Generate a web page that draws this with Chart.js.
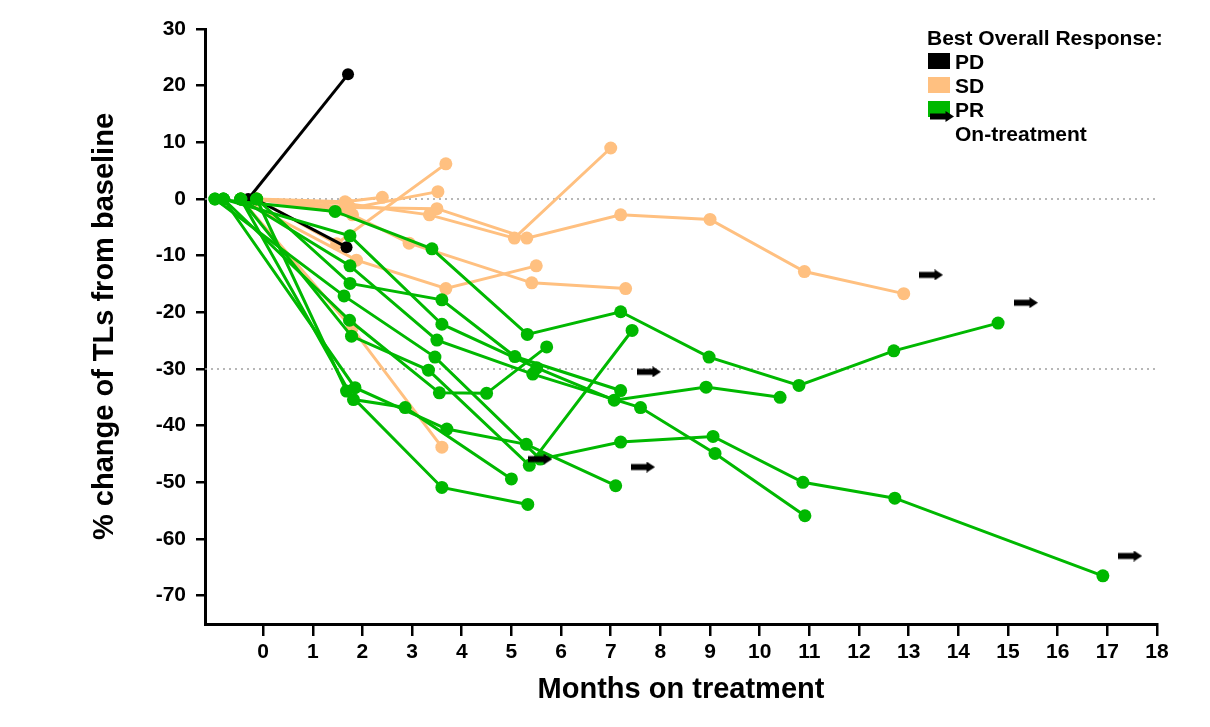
<!DOCTYPE html>
<html><head><meta charset="utf-8">
<script src="https://cdn.jsdelivr.net/npm/chart.js@4.4.0/dist/chart.umd.min.js"></script>
<style>
html,body{margin:0;padding:0;background:#fff;}
#wrap{position:relative;width:1210px;height:727px;overflow:hidden;}
#c{position:absolute;left:0;top:0;}
.lg{position:absolute;font-family:'Liberation Sans',Arial,sans-serif;font-weight:bold;font-size:21px;line-height:24px;color:#000;white-space:nowrap;}
.sw{position:absolute;width:22px;height:16px;}
</style></head>
<body><div id="wrap">
<canvas id="c" width="1210" height="727"></canvas>
<div class="lg" style="left:927px;top:26px">Best Overall Response:</div>
<div class="sw" style="left:928px;top:53px;background:#000"></div>
<div class="lg" style="left:955px;top:50px">PD</div>
<div class="sw" style="left:928px;top:77px;background:#ffc080"></div>
<div class="lg" style="left:955px;top:74px">SD</div>
<div class="sw" style="left:928px;top:101px;background:#00b800"></div>
<div class="lg" style="left:955px;top:98px">PR</div>
<canvas id="legArrow" width="24" height="11" style="position:absolute;left:930px;top:111px"></canvas>
<div class="lg" style="left:955px;top:122px">On-treatment</div>
</div>
<script>
// ---- data (months on treatment, % change of target lesions) ----
const xTicks = [0,1,2,3,4,5,6,7,8,9,10,11,12,13,14,15,16,17,18];
const yTicks = [30,20,10,0,-10,-20,-30,-40,-50,-60,-70];
const refLevels = [0, -30];

const pdMonths = [[-0.30, 1.71], [-0.16, 1.68]];
const pdChange = [[0, 22.0], [0, -8.5]];

const sdMonths = [
  [-0.13, 1.65, 2.40],
  [-0.13, 1.48, 3.68],
  [-0.13, 1.60, 3.52],
  [-0.13, 1.70, 3.35, 5.06, 7.00],
  [-0.13, 1.75, 3.50, 5.31, 7.20, 9.00, 10.90, 12.90],
  [-0.45, 1.88, 3.68, 5.50],
  [-0.13, 1.80, 2.94, 5.41, 7.30],
  [-0.45, 1.79, 3.60]
];
const sdChange = [
  [0, -0.5, 0.3],
  [0, -7.9, 6.2],
  [0, -1.9, 1.3],
  [0, -0.85, -2.8, -6.9, 9.0],
  [0, -1.5, -1.7, -6.9, -2.8, -3.6, -12.8, -16.7],
  [0, -10.8, -15.8, -11.8],
  [0, -2.8, -7.8, -14.8, -15.8],
  [0, -22.8, -43.8]
];

const prMonths = [
  [-0.97, 1.45, 3.40, 5.32, 7.20, 8.98, 10.79, 12.70, 14.80],
  [-0.80, 1.75, 3.60, 5.51, 7.07, 8.92, 10.41],
  [-0.45, 1.75, 3.50, 5.43, 7.60, 9.10, 10.91],
  [-0.13, 1.75, 3.60, 5.07, 7.20],
  [-0.97, 1.63, 3.46, 5.58, 7.20, 9.06, 10.87, 12.72, 16.91],
  [-0.80, 1.74, 3.55, 4.50, 5.71],
  [-0.45, 1.78, 3.33, 5.36, 7.43],
  [-0.13, 1.68, 3.60, 5.33],
  [-0.80, 1.85, 3.70, 5.30, 7.10],
  [-0.45, 1.82, 2.86, 5.00]
];
const prChange = [
  [0, -2.2, -8.8, -23.9, -19.9, -27.9, -32.9, -26.8, -21.9],
  [0, -6.5, -22.1, -29.8, -35.5, -33.2, -35.0],
  [0, -11.8, -24.9, -30.9, -36.8, -44.9, -55.9],
  [0, -14.9, -17.8, -27.8, -33.8],
  [0, -17.1, -27.9, -45.9, -42.9, -41.9, -50.0, -52.8, -66.5],
  [0, -21.4, -34.2, -34.3, -26.1],
  [0, -24.2, -30.2, -47.0, -23.2],
  [0, -33.9, -50.9, -53.9],
  [0, -33.3, -40.6, -43.3, -50.6],
  [0, -35.4, -36.8, -49.4]
];

const onTreatMonths = [5.58, 7.65, 7.77, 13.45, 15.36, 17.46];
const onTreatChange = [-45.9, -47.3, -30.5, -13.4, -18.3, -63.0];

// ---- styling ----
const GREEN = '#00b800', ORANGE = '#ffc080', BLACK = '#000000';
const FONT = "'Liberation Sans', Arial, sans-serif";
Chart.defaults.font.family = FONT;
Chart.defaults.color = '#000';

function drawArrow(g){
  g.fillStyle = '#000';
  g.fillRect(0, 2.5, 17, 6);
  g.beginPath(); g.moveTo(15.5, 0); g.lineTo(24, 5.5); g.lineTo(15.5, 11); g.closePath(); g.fill();
}
const arrowImg = document.createElement('canvas');
arrowImg.width = 24; arrowImg.height = 11;
drawArrow(arrowImg.getContext('2d'));
drawArrow(document.getElementById('legArrow').getContext('2d'));

function patient(months, change, color, r){
  return {
    type: 'line',
    data: months.map((m, i) => ({x: m, y: change[i]})),
    borderColor: color, backgroundColor: color,
    pointBackgroundColor: color, pointBorderColor: color,
    pointRadius: r, pointHoverRadius: r, pointBorderWidth: 0,
    borderWidth: 3, tension: 0, fill: false, clip: false
  };
}

// first dataset is drawn on top
const datasets = [];
datasets.push({
  type: 'scatter',
  data: onTreatMonths.map((m, i) => ({x: m, y: onTreatChange[i]})),
  pointStyle: arrowImg, pointRadius: 8, showLine: false, clip: false
});
prMonths.forEach((m, i) => datasets.push(patient(m, prChange[i], GREEN, 6.5)));
pdMonths.forEach((m, i) => datasets.push(patient(m, pdChange[i], BLACK, 6)));
sdMonths.forEach((m, i) => datasets.push(patient(m, sdChange[i], ORANGE, 6.5)));
refLevels.forEach(v => datasets.push({
  type: 'line', data: [{x: -1.17, y: v}, {x: 18, y: v}],
  borderColor: '#a0a0a0', borderWidth: 1.5, borderDash: [2, 4],
  pointRadius: 0, fill: false
}));

new Chart(document.getElementById('c'), {
  type: 'line',
  data: {datasets},
  options: {
    responsive: false, animation: false, devicePixelRatio: 1,
    layout: {padding: {left: 88, right: 53, top: 29, bottom: 20}},
    plugins: {legend: {display: false}, tooltip: {enabled: false}},
    scales: {
      x: {
        type: 'linear', min: -1.17, max: 18,
        afterBuildTicks: s => { s.ticks = xTicks.map(v => ({value: v})); },
        afterFit: s => { s.height = 83; },
        grid: {drawOnChartArea: false, drawTicks: true, tickLength: 12, color: '#000', lineWidth: 2.5},
        border: {display: true, color: '#000', width: 3},
        ticks: {font: {size: 21, weight: 'bold'}, padding: 4, maxRotation: 0, autoSkip: false,
                callback: v => String(v)},
        title: {display: true, text: 'Months on treatment', font: {size: 29, weight: 'bold'}, padding: 0}
      },
      y: {
        type: 'linear', min: -75, max: 30,
        afterBuildTicks: s => { s.ticks = yTicks.map(v => ({value: v})); },
        afterFit: s => { s.width = 117; },
        grid: {drawOnChartArea: false, drawTicks: true, tickLength: 9, color: '#000', lineWidth: 2.5},
        border: {display: true, color: '#000', width: 3},
        ticks: {font: {size: 21, weight: 'bold'}, padding: 10, autoSkip: false,
                callback: v => String(v)},
        title: {display: true, text: '% change of TLs from baseline', font: {size: 29, weight: 'bold'}, padding: 0}
      }
    }
  }
});
</script>
</body></html>
